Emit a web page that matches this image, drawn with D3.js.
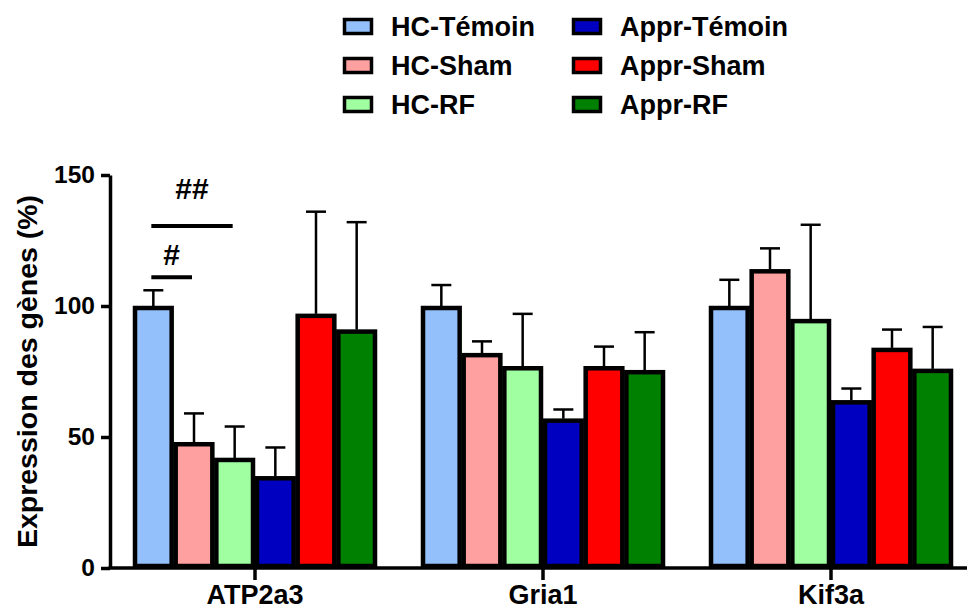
<!DOCTYPE html>
<html lang="fr">
<head>
  <meta charset="UTF-8">
  <title>Expression des gènes</title>
  <style>
    body { margin: 0; background: #fff; }
    svg { display: block; font-family: "Liberation Sans", Arial, sans-serif; }
  </style>
</head>
<body>
  <div id="chart"></div>
  <script src="https://d3js.org/d3.v7.min.js"></script>
  <script>
    // data
    const genes = ['ATP2a3', 'Gria1', 'Kif3a'];
    const series = ['HC-Témoin', 'HC-Sham', 'HC-RF', 'Appr-Témoin', 'Appr-Sham', 'Appr-RF'];
    const colors = ['#93c0fa', '#ffa0a0', '#a0ffa0', '#0000c0', '#ff0000', '#008000'];
    // mean per series, one value per gene
    const means = [
      [100, 100, 100],
      [48, 82, 114],
      [42, 77, 95],
      [35, 57, 64],
      [97, 77, 84],
      [91, 75.5, 76]
    ];
    // top of error bar (mean + SEM)
    const errTops = [
      [106, 108, 110],
      [59, 86.5, 122],
      [54, 97, 131],
      [46, 60.5, 68.5],
      [136, 84.5, 91],
      [132, 90, 92]
    ];
    const yTicks = [0, 50, 100, 150];
    // significance marks (gene, from series, to series, line level, label level)
    const sigs = [
      {gene: 'ATP2a3', from: 0, to: 1, level: 111, textLevel: 115.5, label: '#'},
      {gene: 'ATP2a3', from: 0, to: 2, level: 130.5, textLevel: 140.8, label: '##'}
    ];

    const W = 967, H = 612;
    const margin = {top: 175, left: 110, bottom: 44};
    const plotBottom = H - margin.bottom;  // y of the zero line
    const groupSpan = 244;                 // width taken by the 6 bars in a group

    const svg = d3.select('#chart').append('svg')
      .attr('width', W)
      .attr('height', H);

    const x0 = d3.scaleBand().domain(genes).range([margin.left + 1, 975]).padding(0);
    const x1 = d3.scaleBand().domain(d3.range(series.length)).range([0, groupSpan]).padding(0);
    const y = d3.scaleLinear().domain([0, 150]).range([plotBottom, margin.top]);
    const groupX = g => x0(g) + (x0.bandwidth() - groupSpan) / 2;

    const rows = [];
    series.forEach((s, i) => genes.forEach((g, j) => {
      rows.push({s: i, gene: g, value: means[i][j], top: errTops[i][j]});
    }));

    // error bars (upper only)
    const err = svg.append('g').attr('class', 'errors')
      .attr('stroke', '#000').attr('stroke-width', 2.5);
    err.selectAll('line.whisker')
      .data(rows)
      .join('line')
      .attr('class', 'whisker')
      .attr('x1', d => groupX(d.gene) + x1(d.s) + x1.bandwidth() / 2)
      .attr('x2', d => groupX(d.gene) + x1(d.s) + x1.bandwidth() / 2)
      .attr('y1', d => y(d.value))
      .attr('y2', d => y(d.top));
    err.selectAll('line.cap')
      .data(rows)
      .join('line')
      .attr('class', 'cap')
      .attr('x1', d => groupX(d.gene) + x1(d.s) + x1.bandwidth() / 2 - 10)
      .attr('x2', d => groupX(d.gene) + x1(d.s) + x1.bandwidth() / 2 + 10)
      .attr('y1', d => y(d.top))
      .attr('y2', d => y(d.top));

    // bars, border drawn inside the outline
    svg.append('g').attr('class', 'bars')
      .selectAll('rect')
      .data(rows)
      .join('rect')
      .attr('x', d => groupX(d.gene) + x1(d.s) + 2)
      .attr('width', x1.bandwidth() - 4)
      .attr('y', d => y(d.value) + 2)
      .attr('height', d => y(0) - y(d.value) - 4)
      .attr('fill', d => colors[d.s])
      .attr('stroke', '#000')
      .attr('stroke-width', 4.5);

    // axes
    const yAxis = d3.axisLeft(y).tickValues(yTicks).tickSize(9).tickSizeOuter(0).tickPadding(6);
    const yG = svg.append('g')
      .attr('transform', `translate(${margin.left},0)`)
      .call(yAxis);
    yG.select('.domain').attr('stroke-width', 3.5);
    yG.selectAll('.tick line').attr('stroke-width', 3.5);
    yG.selectAll('text')
      .attr('font-size', 24.5).attr('font-weight', 'bold').attr('fill', '#000')
      .attr('font-family', '"Liberation Sans", Arial, sans-serif');

    const xAxis = d3.axisBottom(x0).tickSize(12).tickSizeOuter(0).tickPadding(5);
    const xG = svg.append('g')
      .attr('transform', `translate(0,${plotBottom})`)
      .call(xAxis);
    xG.select('.domain').attr('stroke-width', 3.5).attr('d', `M${margin.left - 1.5},0H975`);
    xG.selectAll('.tick line').attr('stroke-width', 3.5);
    xG.selectAll('text')
      .attr('font-size', 27).attr('font-weight', 'bold').attr('fill', '#000')
      .attr('font-family', '"Liberation Sans", Arial, sans-serif');

    // y axis title
    svg.append('text')
      .attr('transform', `translate(37,${(margin.top + plotBottom) / 2}) rotate(-90)`)
      .attr('text-anchor', 'middle')
      .attr('font-size', 28.5)
      .attr('font-weight', 'bold')
      .attr('fill', '#000')
      .text('Expression des gènes (%)');

    // significance bars
    const sigG = svg.append('g').attr('class', 'sig');
    const barCenter = (g, s) => groupX(g) + x1(s) + x1.bandwidth() / 2;
    sigG.selectAll('line')
      .data(sigs)
      .join('line')
      .attr('x1', d => barCenter(d.gene, d.from) - 2)
      .attr('x2', d => barCenter(d.gene, d.to) - 2)
      .attr('y1', d => y(d.level))
      .attr('y2', d => y(d.level))
      .attr('stroke', '#000')
      .attr('stroke-width', 4);
    sigG.selectAll('text')
      .data(sigs)
      .join('text')
      .attr('x', d => (barCenter(d.gene, d.from) + barCenter(d.gene, d.to)) / 2 - 2)
      .attr('y', d => y(d.textLevel))
      .attr('text-anchor', 'middle')
      .attr('font-size', 30)
      .attr('font-weight', 'bold')
      .text(d => d.label);

    // legend, two columns of three
    const legend = svg.append('g').attr('class', 'legend');
    const colX = [343, 572];
    const rowY = [26.5, 65.5, 104.5];
    const item = legend.selectAll('g')
      .data(series)
      .join('g')
      .attr('transform', (d, i) => `translate(${colX[Math.floor(i / 3)]},${rowY[i % 3]})`);
    item.append('rect')
      .attr('x', 1.5).attr('y', -7)
      .attr('width', 27).attr('height', 14)
      .attr('fill', (d, i) => colors[i])
      .attr('stroke', '#000')
      .attr('stroke-width', 3.5);
    item.append('text')
      .attr('x', 48)
      .attr('dy', '0.35em')
      .attr('font-size', 27)
      .attr('font-weight', 'bold')
      .text(d => d);
  </script>
</body>
</html>
